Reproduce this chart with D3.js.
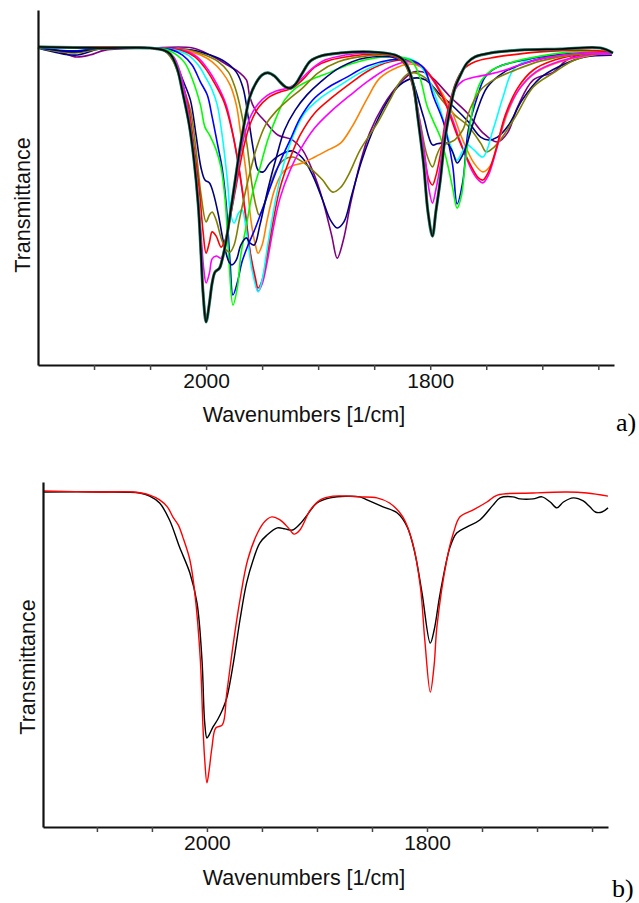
<!DOCTYPE html>
<html>
<head>
<meta charset="utf-8">
<script src="https://cdn.jsdelivr.net/npm/d3@7.9.0/dist/d3.min.js"></script>
<style>
  body { margin: 0; background: #fff; }
  svg { display: block; }
  .tick line { stroke: #444; stroke-width: 1.5; }
  .tick text { font-family: "Liberation Sans", Arial, sans-serif; font-size: 21px; fill: #111; }
  .domain { stroke: #111; stroke-width: 2.2; }
  .ax-title { font-family: "Liberation Sans", Arial, sans-serif; font-size: 21.5px; fill: #111; }
  .panel-tag { font-family: "Liberation Serif", "Times New Roman", serif; font-size: 26px; fill: #000; }
</style>
</head>
<body>
<svg id="chart" width="639" height="903"></svg>
<script>
// x ticks in cm-1, only two of them get a label
const wnTicks = [2100, 2050, 2000, 1950, 1900, 1850, 1800, 1750, 1700, 1650];
const wnLabelled = [2000, 1800];

// ---- panel a: spectra taken during the run, [wavenumber, transmittance %]
// first three scans sit on top of each other
const scanA = [[2150,89.6],[2095,89.3],[2050,89.3],[2038,88.7],[2032,87.6],[2026,83.7],[2021,76.9],[2015,67.6],[2011,58.3],[2007,45.1],[2004.5,31.0],[2002.7,20.3],[2000,12.1],[1997,17.5],[1994.6,23.1],[1992,26.2],[1988,27.3],[1985.7,29.6],[1982,35.2],[1978.6,42.3],[1974,52.1],[1970,60.6],[1965,69.6],[1961,75.5],[1955,79.7],[1950,81.7],[1945,82.3],[1939,81.4],[1934,79.7],[1929,78.3],[1924.5,78.0],[1920,79.2],[1914,82.3],[1907,85.6],[1898,87.0],[1880,87.9],[1854,88.2],[1831,87.3],[1824,85.9],[1820,83.9],[1815,78.9],[1811,69.6],[1806,56.9],[1802,43.1],[1798,36.3],[1795,43.1],[1791,52.1],[1787,63.4],[1782,72.4],[1778,78.0],[1773,81.7],[1767,85.1],[1760,86.8],[1746,87.9],[1720,88.7],[1684,89.0],[1648,89.3],[1637,87.9]];
const scanMagenta1 = [[2150,89.6],[2095,89.3],[2050,89.3],[2037,88.7],[2029,86.8],[2023,82.3],[2018,75.2],[2012.5,63.9],[2008,50.7],[2004.5,36.6],[2002,26.8],[2000,23.1],[1997,25.9],[1994.6,29.9],[1991,30.7],[1986.6,30.1],[1983,33.5],[1978.6,41.4],[1973,52.1],[1968,61.7],[1961,69.6],[1953.6,73.5],[1946,75.8],[1937.5,77.2],[1927,78.0],[1918,79.7],[1907,83.1],[1894,85.9],[1876,87.3],[1854,87.9],[1831,87.3],[1822,85.4],[1816,80.3],[1811,71.8],[1805,59.7],[1801,49.3],[1798,45.6],[1795,49.3],[1791,56.3],[1787,66.2],[1782,73.2],[1777,78.0],[1771,80.0],[1760,81.1],[1746,82.0],[1733,83.1],[1715,85.1],[1693,86.8],[1666,87.9],[1638,87.9]];
const scanRed1 = [[2150,89.6],[2050,89.3],[2038,88.7],[2030,86.5],[2023,81.1],[2016,73.2],[2011,62.0],[2006,49.3],[2002.7,37.5],[2000,31.5],[1997,34.6],[1994.6,37.5],[1991,36.3],[1986.6,33.2],[1983,35.2],[1978.6,41.4],[1973,50.7],[1967,60.6],[1961,67.6],[1953.6,72.4],[1945,75.2],[1934,76.9],[1923,78.0],[1914,80.3],[1903,83.9],[1889,85.9],[1871,87.0],[1849,87.6],[1831,86.8],[1822,84.5],[1816,78.9],[1811,69.6],[1805,58.3],[1801,52.1],[1798,50.7],[1795,53.2],[1791,59.2],[1787,67.6],[1782,74.6],[1777,79.7],[1771,83.1],[1760,85.4],[1746,86.5],[1729,87.3],[1702,88.2],[1666,88.7],[1638,88.2]];
const scanOlive1 = [[2150,89.6],[2050,89.3],[2038,88.7],[2030,85.9],[2023,80.3],[2014,71.8],[2009,60.6],[2004.5,47.9],[2000,40.3],[1997,42.3],[1994.6,43.1],[1991,40.8],[1986.6,35.8],[1982,32.4],[1978.6,31.8],[1975,33.8],[1970,41.4],[1962.5,52.1],[1955,61.1],[1947,67.6],[1938,71.3],[1927,74.6],[1914,78.0],[1900,82.3],[1882,85.4],[1858,87.0],[1833,87.0],[1823,84.8],[1816,79.2],[1809,68.5],[1803,59.2],[1798,55.8],[1794,59.2],[1790,61.7],[1784,62.5],[1778,63.4],[1771,66.2],[1764,72.4],[1755,77.5],[1742,80.6],[1724,83.1],[1702,85.6],[1675,87.3],[1638,87.9]];
const scanNavy1 = [[2150,89.6],[2117,88.2],[2095,89.3],[2050,89.3],[2037,88.5],[2028,85.4],[2020,79.7],[2014,74.6],[2009,64.8],[2004.5,55.5],[2001,52.1],[1997,51.3],[1993.8,48.7],[1989,42.3],[1984,33.8],[1979.5,29.0],[1977,28.2],[1973,29.6],[1969,33.8],[1964,35.8],[1961,34.4],[1957,33.8],[1952,39.4],[1945,49.3],[1937.5,58.3],[1930,66.2],[1920.5,71.8],[1910,76.1],[1898,79.7],[1880,83.9],[1858,86.5],[1831,86.5],[1822,84.8],[1815,79.4],[1806,69.9],[1798,62.0],[1794,62.3],[1790,62.5],[1785,62.5],[1780,60.0],[1776,56.9],[1771,59.2],[1767,62.5],[1758,71.8],[1749,78.3],[1735,82.3],[1715,85.1],[1684,87.3],[1638,87.9]];
const scanGreen = [[2150,89.3],[2050,89.3],[2034,88.7],[2026,87.3],[2019,85.1],[2012,80.3],[2005,73.2],[2001,67.0],[1996.4,64.5],[1991,60.6],[1986.6,55.5],[1983,46.5],[1979.5,29.0],[1976,16.9],[1972,22.0],[1969,31.0],[1964,39.4],[1959,47.9],[1952,55.5],[1945,63.4],[1937.5,69.6],[1930,74.6],[1920,78.0],[1907,80.3],[1889,82.5],[1871,84.8],[1849,86.5],[1827,86.8],[1816,85.4],[1809,80.8],[1803,73.2],[1797,68.5],[1791,64.2],[1785,57.2],[1780,49.9],[1776,44.2],[1772,47.9],[1769,56.3],[1764,68.5],[1760,75.5],[1754,80.3],[1745,83.1],[1729,85.1],[1702,87.0],[1671,88.2],[1638,88.2]];
const scanBlue = [[2150,89.3],[2117,88.5],[2095,89.3],[2050,89.3],[2030,88.7],[2021,87.3],[2012.5,84.5],[2005,79.7],[1999,76.1],[1994.6,69.9],[1990,62.5],[1985.7,55.5],[1982,45.1],[1978.6,29.0],[1976,19.7],[1972,23.4],[1968,29.0],[1962.5,33.8],[1956,38.6],[1950,43.7],[1943,49.9],[1934,57.2],[1925,63.4],[1916,69.6],[1905,74.6],[1892,78.0],[1876,80.8],[1856,84.2],[1836,85.9],[1818,85.9],[1806,83.7],[1797,75.5],[1788,68.2],[1780,56.3],[1776,45.4],[1771,51.5],[1766,66.2],[1758,75.5],[1751,81.1],[1740,83.9],[1724,85.4],[1698,87.0],[1666,87.9],[1638,87.9]];
const scanCyan = [[2150,89.3],[2050,89.3],[2028,88.7],[2016,87.3],[2007,84.5],[2000,80.8],[1994.6,77.5],[1990,73.2],[1985.7,64.8],[1981,52.1],[1978,42.3],[1975,40.0],[1971,42.8],[1968,43.7],[1963.5,36.6],[1959,26.8],[1953.6,20.6],[1950,23.9],[1945,33.8],[1938,46.5],[1931,56.3],[1922,64.8],[1912,71.0],[1898,75.2],[1880,78.9],[1862.5,82.3],[1840,85.4],[1822,86.5],[1811,85.1],[1802,80.8],[1791,71.8],[1782,62.0],[1776,57.7],[1771,60.3],[1767,62.0],[1761,60.6],[1753,58.6],[1744,66.2],[1735,75.5],[1726,83.1],[1713,85.9],[1693,87.3],[1662,88.2],[1638,88.2]];
const scanRed2 = [[2150,89.3],[2050,89.3],[2023,88.7],[2010,86.8],[2001,83.7],[1993,79.7],[1984,74.1],[1977,66.2],[1971,56.3],[1966,45.1],[1961,32.4],[1956,24.5],[1953.6,21.7],[1950,23.9],[1945.5,31.0],[1940,40.8],[1934,49.9],[1925,58.3],[1916,64.8],[1903,71.0],[1887,75.5],[1871,79.4],[1854,83.1],[1836,85.4],[1820,85.9],[1809,84.5],[1797,80.3],[1787,74.1],[1775,63.9],[1764,56.3],[1757,52.7],[1753,52.1],[1748,54.4],[1741,61.1],[1733,70.4],[1722,78.0],[1708,83.1],[1689,85.9],[1662,87.6],[1638,87.9]];
const scanMagenta2 = [[2150,89.3],[2050,89.3],[2021,88.7],[2008,86.8],[1998,83.1],[1990,78.9],[1982,73.2],[1976,64.8],[1970.5,54.9],[1965,43.1],[1960,30.1],[1956,23.4],[1953.6,20.8],[1950,22.8],[1945.5,29.0],[1940,38.6],[1934,47.0],[1925,54.9],[1916,60.6],[1903,66.8],[1889,71.3],[1871,76.1],[1854,80.3],[1836,83.9],[1818,85.4],[1806,83.7],[1795,78.9],[1784,72.4],[1773,62.8],[1763,54.9],[1757,52.1],[1753,51.3],[1748,53.5],[1741,60.6],[1733,69.9],[1721,77.5],[1706,82.5],[1686,85.4],[1660,87.3],[1638,87.6]];
const scanOrange = [[2150,89.3],[2050,89.3],[2019,88.7],[2005,87.3],[1994.6,85.4],[1985.7,82.5],[1978.6,78.9],[1973,73.2],[1969,64.8],[1964,53.5],[1960,40.8],[1956,33.8],[1953.6,31.5],[1950,33.8],[1945.5,40.8],[1939,49.3],[1932,54.1],[1923,56.1],[1914,56.9],[1903,58.6],[1891,60.6],[1880,62.5],[1870,67.0],[1856,75.2],[1845,80.8],[1829,83.9],[1818,84.8],[1807,83.7],[1796,79.7],[1782,72.4],[1771,63.4],[1761,56.9],[1753,54.4],[1746,56.3],[1740,62.0],[1731,71.0],[1720,78.0],[1705,82.5],[1684,85.4],[1657,87.3],[1638,87.6]];
const scanOlive2 = [[2150,89.3],[2117,87.9],[2095,89.0],[2050,89.3],[2016,88.7],[2001,87.3],[1989,85.4],[1980,82.5],[1974,78.0],[1969,71.8],[1963.5,62.0],[1959,50.7],[1955,44.2],[1952.7,42.3],[1949,44.2],[1944,49.3],[1937.5,54.9],[1931,57.7],[1923,58.6],[1914,57.2],[1905,54.9],[1896,52.1],[1887,48.7],[1880,50.0],[1873,53.5],[1862.5,60.6],[1847,68.2],[1836,74.6],[1827,79.7],[1818,82.3],[1804,80.8],[1791,75.2],[1778,70.4],[1767,67.6],[1755,62.5],[1750,60.0],[1744,61.1],[1737.5,63.4],[1724,69.9],[1708,78.3],[1690,82.3],[1671,85.9],[1648,87.6],[1638,87.6]];
const scanNavy2 = [[2150,89.3],[2117,87.3],[2095,89.0],[2050,89.3],[2012.5,88.7],[1996.4,87.3],[1983,85.4],[1973,82.5],[1967,78.0],[1962,69.0],[1957,59.2],[1953.6,54.9],[1949,54.4],[1943,56.9],[1934,59.2],[1923,60.3],[1914,58.3],[1905,53.5],[1896,46.5],[1889,40.8],[1883,38.6],[1877,40.3],[1870,47.9],[1861,57.7],[1849,67.6],[1837.5,74.6],[1827,78.9],[1815,80.8],[1804,80.3],[1791,76.1],[1778,72.4],[1766,68.5],[1755,64.2],[1748,63.4],[1740,64.2],[1730,67.6],[1718,74.6],[1702,80.8],[1684,84.2],[1662,86.8],[1638,87.3]];
const scanPurple = [[2150,89.3],[2130,88.2],[2117,86.8],[2104,87.3],[2090,88.7],[2050,89.3],[2012,89.3],[1996.4,87.3],[1981,84.5],[1970,82.3],[1964,80.3],[1961,75.5],[1956,71.8],[1947,68.5],[1936,64.8],[1923,63.4],[1914,60.6],[1904.5,54.4],[1896,46.5],[1888,36.6],[1883,30.1],[1877.5,35.2],[1871,45.6],[1862.5,56.9],[1854,65.4],[1842,73.0],[1827,79.4],[1815,82.5],[1804,82.3],[1796,80.3],[1782,75.5],[1767,71.0],[1753,65.4],[1740,62.8],[1731,65.4],[1722,72.7],[1708,80.3],[1690,82.5],[1678,85.9],[1660,87.9],[1638,87.9]];

// ---- panel b: the two reference spectra
const refBlack = [[2149,97.1],[2097,97.1],[2061,96.8],[2052,95.9],[2043,93.9],[2034,89.0],[2025,81.2],[2015.5,73.6],[2009,64.9],[2004.5,48.4],[2002,30.1],[2000,25.8],[1998,26.7],[1994.5,29.0],[1990,31.3],[1986,33.9],[1982,37.4],[1976,47.5],[1970,60.0],[1964,70.7],[1958,77.4],[1952,82.3],[1945.5,84.6],[1936,86.7],[1929,86.4],[1922,86.1],[1915.5,87.8],[1909,90.4],[1900,93.9],[1888,95.4],[1861,95.7],[1854.5,94.8],[1840,92.8],[1827,91.0],[1818,87.0],[1811,79.4],[1804.5,67.8],[1797,53.3],[1793.5,57.1],[1788,67.8],[1779,81.2],[1773,85.2],[1763.6,87.0],[1752,89.0],[1740,93.3],[1733.6,95.4],[1722,95.7],[1715.5,95.1],[1703.6,95.1],[1695.5,95.7],[1688,94.2],[1682,92.5],[1676,94.2],[1667,95.4],[1658,94.5],[1652,92.8],[1647,91.3],[1641,91.3],[1635.5,92.5]];
const refRed = [[2149,97.4],[2097,97.1],[2067,97.1],[2052,96.2],[2043,94.8],[2036,92.8],[2031,89.9],[2026,87.5],[2022,84.1],[2015.5,77.4],[2011,67.8],[2006,48.4],[2003.6,29.0],[2002,19.4],[2000,12.8],[1998,16.5],[1995.5,22.9],[1992,28.7],[1986,29.6],[1982,38.8],[1976,53.3],[1970,65.8],[1963,77.4],[1953.6,85.5],[1947,88.7],[1941,89.9],[1933.6,89.0],[1926,86.7],[1921,84.9],[1915.5,86.1],[1906,91.9],[1897,94.8],[1885.5,95.9],[1861,95.7],[1845.5,95.4],[1834,93.9],[1822,89.9],[1813,82.3],[1806,69.6],[1802,54.2],[1797,39.1],[1793.5,47.0],[1791,58.0],[1782,77.4],[1776,85.2],[1770,89.9],[1758,91.9],[1745.5,94.2],[1736,96.2],[1703.6,96.8],[1673,97.1],[1654.5,96.8],[1635.5,95.9]];

// styles kept apart from the data; drawn back to front so the black scan ends on top
const panelAScans = [scanPurple, scanNavy2, scanOlive2, scanOrange, scanMagenta2, scanRed2, scanCyan, scanBlue, scanGreen, scanNavy1, scanOlive1, scanRed1, scanMagenta1, scanA, scanA, scanA];
const panelAColors = ['#800080', '#000080', '#808000', '#ff8000', '#ff00ff', '#ff0000', '#00ffff', '#0000ff', '#00ff00', '#000080', '#808000', '#ff0000', '#ff00ff', '#2b7f7f', '#1d5c3a', '#000000'];
const panelAWidths = [1.6, 1.6, 1.6, 1.6, 1.6, 1.6, 1.6, 1.6, 1.6, 1.6, 1.6, 1.6, 1.6, 3.0, 2.2, 1.3];

const svg = d3.select('#chart');

function drawPanel(cfg) {
  let x = d3.scaleLinear().domain(cfg.wnDomain).range([cfg.left, cfg.right]);
  let y = d3.scaleLinear().domain([0, 100]).range([cfg.bottom, cfg.top]);
  let line = d3.line()
    .x((d) => x(d[0]))
    .y((d) => y(d[1]))
    .curve(d3.curveCatmullRom.alpha(0.5));

  let g = svg.append('g');

  cfg.scans.forEach((scan, idx) => {
    g.append('path')
      .attr('d', line(scan))
      .attr('fill', 'none')
      .attr('stroke', cfg.colors[idx])
      .attr('stroke-width', cfg.widths[idx])
      .attr('stroke-linejoin', 'round');
  });

  // axes: bottom with ticks every 50, left is a bare line
  g.append('g')
    .attr('transform', `translate(0,${cfg.bottom})`)
    .call(d3.axisBottom(x)
      .tickValues(wnTicks)
      .tickSize(5)
      .tickSizeOuter(0)
      .tickPadding(3)
      .tickFormat((d) => (wnLabelled.includes(d) ? d : '')));
  g.append('g')
    .attr('transform', `translate(${cfg.left},0)`)
    .call(d3.axisLeft(y).tickValues([]).tickSizeOuter(0));

  g.append('text')
    .attr('class', 'ax-title')
    .attr('x', 304)
    .attr('y', cfg.xTitleY)
    .attr('text-anchor', 'middle')
    .text('Wavenumbers [1/cm]');
  g.append('text')
    .attr('class', 'ax-title')
    .attr('transform', `translate(${cfg.yTitleX},${cfg.yTitleY}) rotate(-90)`)
    .attr('text-anchor', 'middle')
    .text('Transmittance');
  g.append('text')
    .attr('class', 'panel-tag')
    .attr('x', cfg.tagX)
    .attr('y', cfg.tagY)
    .text(cfg.tag);
}

drawPanel({
  wnDomain: [2150, 1636], left: 38, right: 614, top: 10, bottom: 365,
  scans: panelAScans, colors: panelAColors, widths: panelAWidths,
  xTitleY: 422, yTitleX: 30, yTitleY: 205, tag: 'a)', tagX: 616, tagY: 431
});

drawPanel({
  wnDomain: [2149, 1635.5], left: 43, right: 608, top: 482, bottom: 827,
  scans: [refBlack, refRed], colors: ['#000000', '#ff0000'], widths: [1.4, 1.4],
  xTitleY: 885, yTitleX: 35, yTitleY: 667, tag: 'b)', tagX: 612, tagY: 897
});
</script>
</body>
</html>
